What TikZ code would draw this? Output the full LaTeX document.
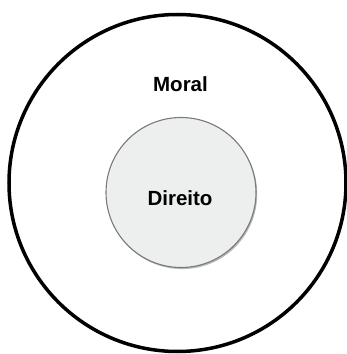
\documentclass[tikz,border=0pt]{standalone}
\usepackage{fontspec}
\setmainfont{Liberation Sans}
\usepackage{xcolor}
\usepackage{tikz}
\usetikzlibrary{calc, positioning}

\definecolor{direitofill}{HTML}{EDEEEE}
\definecolor{direitoline}{HTML}{7A7A7A}

\begin{document}
\begin{tikzpicture}[x=1pt,y=1pt,
  label text/.style={font=\fontsize{20.5}{24}\selectfont\bfseries, inner sep=0pt}]
  % Canvas
  \useasboundingbox (0,0) rectangle (347,354);
  
  % Centres of the two circles
  \coordinate (M) at (177.5,171);
  \coordinate (D) at (181,161.5);
  
  % Outer circle (Moral)
  \draw[line width=3.5pt] (M) circle (168.5);
  
  % Inner circle (Direito) with a soft shadow
  \fill[gray!55] ($(D)+(1.2,-1.6)$) circle (75);
  \filldraw[fill=direitofill, draw=direitoline, line width=1.1pt] (D) circle (75);
  
  % Labels
  \node[label text] (moral) at (180.5,270) {Moral};
  \node[label text] (direito) at (180,155.5) {Direito};
\end{tikzpicture}
\end{document}
